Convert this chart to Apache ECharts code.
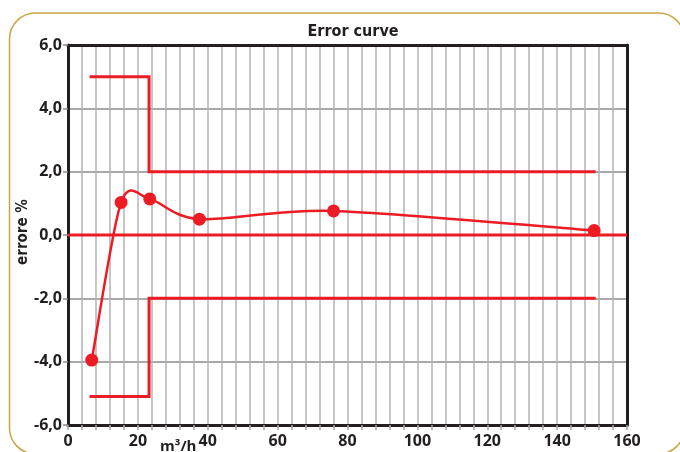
<!DOCTYPE html>
<html>
<head>
<meta charset="utf-8">
<script src="https://cdn.jsdelivr.net/npm/echarts@6/dist/echarts.min.js"></script>
<style>
html,body{margin:0;padding:0;background:#fff;}
#c{width:680px;height:452px;}
</style>
</head>
<body>
<div id="c"></div>
<script>
// Measured error curve (flow m3/h, error %)
var flowValues = [6.8, 15.2, 23.4, 37.6, 76, 150.6];
var errorValues = [-3.95, 1.03, 1.14, 0.5, 0.76, 0.14];
// Tolerance limits
var limitX = [6.6, 23.2, 23.2, 150.6];
var upperLimitY = [5, 5, 2, 2];
var lowerLimitY = [-5.1, -5.1, -2, -2];
// Zero reference line
var zeroX = [0, 160];
var zeroY = [0, 0];
// Axis ticks
var xTicks = [0, 20, 40, 60, 80, 100, 120, 140, 160];
var yTicks = [-6, -4, -2, 0, 2, 4, 6];

var RED = '#ed1c24';
var INK = '#231f20';
var FONT = "'Open Sans', sans-serif";
var NARROW = "'Liberation Sans Narrow', 'DejaVu Sans Condensed', sans-serif";

function zip(a, b) { return a.map(function (v, i) { return [v, b[i]]; }); }
var curvePts = zip(flowValues, errorValues);

var chart = echarts.init(document.getElementById('c'));
var option = {
  animation: false,
  backgroundColor: '#fff',
  title: {
    text: 'Error curve', left: 348, top: 19, textAlign: 'center',
    textStyle: { fontFamily: NARROW, fontWeight: 'bold', fontSize: 16, color: INK }
  },
  grid: { left: 68, right: 53, top: 45, bottom: 27, containLabel: false },
  graphic: [
    { type: 'rect', shape: { x: 9.5, y: 13, width: 675, height: 441, r: 26 },
      style: { fill: 'none', stroke: '#c9a745', lineWidth: 1.5 }, z: 0, silent: true },
    { type: 'text', left: 160, top: 439,
      style: { text: 'm³/h', fontFamily: FONT, fontWeight: 'bold', fontSize: 15, fill: INK } },
    { type: 'text', x: 16, y: 232, rotation: Math.PI / 2,
      style: { text: 'errore %', fontFamily: NARROW, fontWeight: 'bold', fontSize: 15, fill: INK,
               align: 'center', verticalAlign: 'top' } }
  ],
  xAxis: [{
    type: 'value', min: xTicks[0], max: xTicks[xTicks.length - 1], interval: xTicks[1] - xTicks[0],
    position: 'bottom',
    axisLine: { show: true, onZero: false, lineStyle: { color: INK, width: 3 } },
    axisTick: { show: true, length: 5, lineStyle: { color: '#a8a8a8', width: 1.5 } },
    minorTick: { show: true, splitNumber: 5, length: 5, lineStyle: { color: '#a8a8a8', width: 1.5 } },
    splitLine: { show: true, lineStyle: { color: '#b4b4b4', width: 1.5 } },
    minorSplitLine: { show: true, lineStyle: { color: '#b4b4b4', width: 1.5 } },
    axisLabel: { fontFamily: FONT, fontWeight: 'bold', fontSize: 16, color: INK, margin: 8 }
  }, {
    type: 'value', min: xTicks[0], max: xTicks[xTicks.length - 1], position: 'top',
    axisLine: { show: true, onZero: false, lineStyle: { color: INK, width: 3 } },
    axisTick: { show: false }, axisLabel: { show: false }, splitLine: { show: false }
  }],
  yAxis: [{
    type: 'value', min: yTicks[0], max: yTicks[yTicks.length - 1], interval: yTicks[1] - yTicks[0],
    position: 'left',
    axisLine: { show: true, onZero: false, lineStyle: { color: INK, width: 3 } },
    axisTick: { show: true, length: 5, lineStyle: { color: '#8c8c8c', width: 1.5 } },
    splitLine: { show: true, lineStyle: { color: '#8c8c8c', width: 1.5 } },
    axisLabel: { fontFamily: FONT, fontWeight: 'bold', fontSize: 16, color: INK, margin: 6,
      formatter: function (v) { return v.toFixed(1).replace('.', ','); } }
  }, {
    type: 'value', min: yTicks[0], max: yTicks[yTicks.length - 1], position: 'right',
    axisLine: { show: true, onZero: false, lineStyle: { color: INK, width: 3 } },
    axisTick: { show: false }, axisLabel: { show: false }, splitLine: { show: false }
  }],
  series: [
    { type: 'line', data: zip(zeroX, zeroY), showSymbol: false, symbol: 'none',
      lineStyle: { color: RED, width: 3 }, z: 3 },
    { type: 'line', data: zip(limitX, upperLimitY), showSymbol: false, symbol: 'none',
      lineStyle: { color: RED, width: 3, cap: 'square', join: 'miter' }, z: 3 },
    { type: 'line', data: zip(limitX, lowerLimitY), showSymbol: false, symbol: 'none',
      lineStyle: { color: RED, width: 3, cap: 'square', join: 'miter' }, z: 3 },
    { type: 'custom', data: curvePts, z: 4, clip: false,
      renderItem: function (params, api) {
        if (params.dataIndex !== 0) return null;
        var p = curvePts.map(function (d) { return api.coord(d); });
        var n = p.length, k = 7;
        var d = 'M' + p[0][0] + ' ' + p[0][1];
        for (var i = 0; i < n - 1; i++) {
          var p0 = p[Math.max(i - 1, 0)], p1 = p[i], p2 = p[i + 1], p3 = p[Math.min(i + 2, n - 1)];
          var c1x = p1[0] + (p2[0] - p0[0]) / k, c1y = p1[1] + (p2[1] - p0[1]) / k;
          var c2x = p2[0] - (p3[0] - p1[0]) / k, c2y = p2[1] - (p3[1] - p1[1]) / k;
          d += ' C' + c1x + ' ' + c1y + ' ' + c2x + ' ' + c2y + ' ' + p2[0] + ' ' + p2[1];
        }
        return { type: 'path', shape: { pathData: d },
                 style: { fill: 'none', stroke: RED, lineWidth: 2.5 } };
      } },
    { type: 'line', data: curvePts, symbol: 'circle', symbolSize: 13, showSymbol: true,
      itemStyle: { color: RED }, lineStyle: { width: 0, opacity: 0 }, z: 5 }
  ]
};
chart.setOption(option);
</script>
</body>
</html>
